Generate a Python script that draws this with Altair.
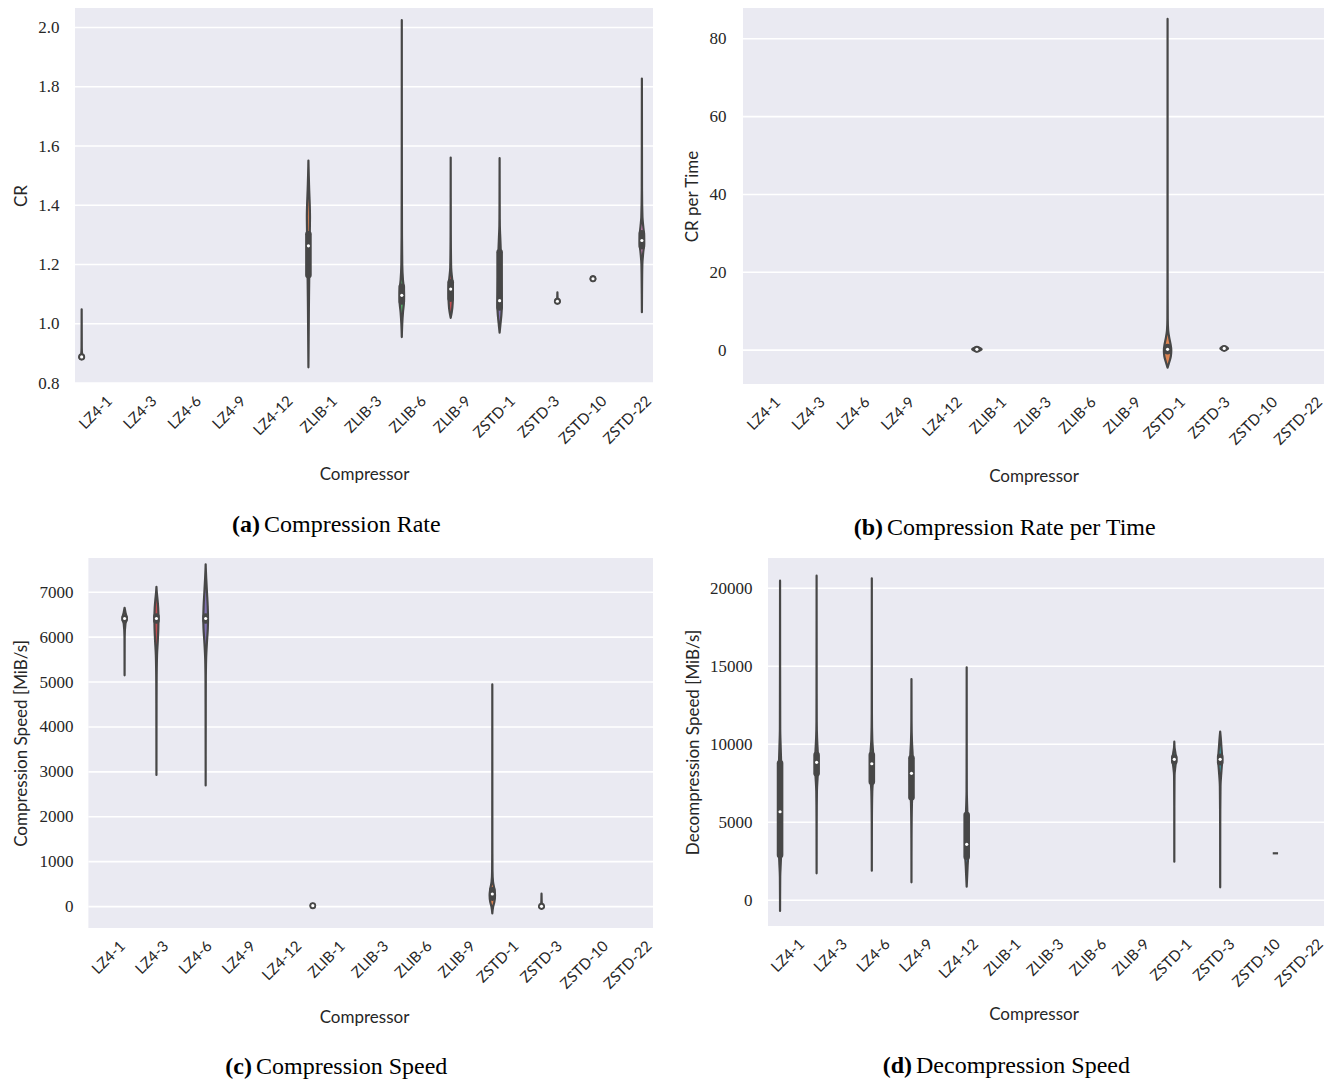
import altair as alt
import pandas as pd

CATEGORIES = ["LZ4-1", "LZ4-3", "LZ4-6", "LZ4-9", "LZ4-12", "ZLIB-1", "ZLIB-3",
              "ZLIB-6", "ZLIB-9", "ZSTD-1", "ZSTD-3", "ZSTD-10", "ZSTD-22"]
DEEP = ["#4C72B0", "#DD8452", "#55A868", "#C44E52", "#8172B3",
        "#937860", "#DA8BC3", "#8C8C8C", "#CCB974", "#64B5CD"]
HUSL11 = ["#f77189", "#dd8a35", "#b49b31", "#86a731", "#4dae5c", "#34af90",
          "#37abb6", "#4ba4d8", "#8a93f4", "#d775e9", "#f566c5"]
GRAY = "#474747"
BG = "#EAEAF2"
TEXT = "#262626"

# ---------------- (a) Compression Rate ----------------
A_NAMES = ["LZ4-1", "ZLIB-1", "ZLIB-6", "ZLIB-9", "ZSTD-1", "ZSTD-10", "ZSTD-22", "ZSTD-3"]
A_SLOTS = [0, 1, 2, 3, 4, 5, 6, 7]
A_NSLOTS = 8
A_Q1 = [0.887, 1.165, 1.075, 1.085, 1.055, 1.151, 1.262, 1.075]
A_MED = [0.888, 1.263, 1.096, 1.117, 1.078, 1.152, 1.281, 1.076]
A_Q3 = [0.889, 1.302, 1.125, 1.140, 1.241, 1.153, 1.305, 1.077]
A_PV = [
    [0.880, 0.884, 0.888, 0.892, 0.897, 0.92, 1.049],
    [0.853, 0.95, 1.05, 1.15, 1.22, 1.30, 1.36, 1.40, 1.45, 1.50, 1.551],
    [0.955, 1.0, 1.04, 1.07, 1.095, 1.12, 1.15, 1.2, 1.3, 1.5, 2.025],
    [1.02, 1.04, 1.07, 1.10, 1.13, 1.155, 1.19, 1.3, 1.561],
    [0.97, 1.0, 1.03, 1.06, 1.1, 1.15, 1.2, 1.25, 1.29, 1.33, 1.4, 1.559],
    [1.144, 1.148, 1.152, 1.156, 1.160],
    [1.039, 1.1, 1.2, 1.24, 1.27, 1.30, 1.33, 1.36, 1.45, 1.6, 1.828],
    [1.068, 1.072, 1.076, 1.080, 1.085, 1.106],
]
A_PW = [
    [0, 0.9, 1.1, 0.9, 0.2, 0.05, 0],
    [0, 0.1, 0.2, 0.35, 0.5, 0.6, 0.7, 0.6, 0.35, 0.15, 0],
    [0, 0.2, 0.55, 0.95, 1.0, 0.9, 0.5, 0.2, 0.08, 0.03, 0],
    [0, 0.5, 0.9, 1.0, 0.95, 0.6, 0.2, 0.05, 0],
    [0, 0.4, 0.8, 1.0, 0.85, 0.7, 0.6, 0.5, 0.3, 0.1, 0.04, 0],
    [0, 0.9, 1.1, 0.9, 0],
    [0, 0.05, 0.2, 0.6, 1.0, 0.95, 0.6, 0.25, 0.06, 0.03, 0],
    [0, 0.9, 1.1, 0.9, 0.1, 0],
]
A_YTICKS = [0.8, 1.0, 1.2, 1.4, 1.6, 1.8, 2.0]

# ---------------- (b) Compression Rate per Time ----------------
B_NAMES = ["ZLIB-1", "ZSTD-1", "ZSTD-3"]
B_SLOTS = [0, 1, 2]
B_NSLOTS = 3
B_Q1 = [0.15, -0.3, 0.4]
B_MED = [0.2, 0.2, 0.45]
B_Q3 = [0.25, 0.8, 0.5]
B_PV = [
    [-0.3, -0.05, 0.2, 0.45, 0.7],
    [-4.5, -3.0, -1.5, 0.0, 1.5, 3.0, 5.0, 8.0, 20.0, 85.1],
    [0.0, 0.2, 0.45, 0.7, 0.9],
]
B_PW = [
    [0, 0.6, 0.8, 0.6, 0],
    [0, 0.3, 0.55, 0.62, 0.5, 0.3, 0.1, 0.03, 0.01, 0],
    [0, 0.5, 0.64, 0.5, 0],
]
B_YTICKS = [0, 20, 40, 60, 80]

# ---------------- (c) Compression Speed ----------------
C_NAMES = ["ZLIB-1", "ZSTD-1", "ZSTD-3", "LZ4-3", "LZ4-6", "LZ4-1"]
C_SLOTS = [0, 1, 2, 3, 4, 5]
C_NSLOTS = 6
C_Q1 = [15, 200, 0, 6370, 6370, 6400]
C_MED = [20, 280, 5, 6415, 6415, 6415]
C_Q3 = [25, 360, 10, 6460, 6460, 6430]
C_PV = [
    [-25, 0, 20, 40, 65],
    [-151, 0, 100, 250, 400, 550, 800, 1500, 4947],
    [-45, -20, 0, 20, 50, 287],
    [2930, 4000, 5000, 5600, 5900, 6200, 6415, 6650, 6850, 7000, 7118],
    [2696, 4000, 5000, 5500, 5900, 6200, 6415, 6700, 7000, 7300, 7500, 7622],
    [5149, 6000, 6300, 6380, 6415, 6450, 6550, 6653],
]
C_PW = [
    [0, 0.6, 0.8, 0.6, 0],
    [0, 0.3, 0.7, 0.93, 0.7, 0.25, 0.06, 0.02, 0],
    [0, 0.7, 0.85, 0.7, 0.1, 0],
    [0, 0.02, 0.06, 0.2, 0.45, 0.65, 0.7, 0.6, 0.35, 0.12, 0],
    [0, 0.02, 0.05, 0.15, 0.45, 0.75, 0.81, 0.7, 0.45, 0.2, 0.06, 0],
    [0, 0.03, 0.3, 0.65, 0.69, 0.65, 0.3, 0],
]
C_YTICKS = [0, 1000, 2000, 3000, 4000, 5000, 6000, 7000]

# ---------------- (d) Decompression Speed ----------------
D_NAMES = ["LZ4-3", "LZ4-1", "LZ4-9", "LZ4-6", "ZSTD-1", "ZSTD-3", "LZ4-12", "ZSTD-10"]
D_SLOTS = [0, 2, 3, 4, 5, 6, 7, 10]
D_NSLOTS = 11
D_Q1 = [8141, 2904, 6603, 7603, 8900, 8850, 2795, 3013]
D_MED = [8846, 5679, 8141, 8756, 9038, 9038, 3590, 3013]
D_Q3 = [9314, 8782, 9103, 9314, 9150, 9200, 5468, 3013]
D_PV = [
    [1731, 5000, 7000, 7800, 8500, 9000, 9600, 10400, 11500, 15000, 20808],
    [-686, 1500, 2500, 3500, 5500, 7500, 8800, 9800, 11000, 15000, 20487],
    [1154, 4000, 6200, 7000, 8200, 9200, 10200, 11500, 14186],
    [1897, 5000, 7000, 7800, 8800, 9500, 10300, 12000, 20641],
    [2474, 6000, 8000, 8600, 9038, 9450, 9800, 10167],
    [833, 5000, 7300, 8300, 9038, 9800, 10500, 10808],
    [872, 1300, 2200, 3000, 4000, 5200, 6200, 7000, 10000, 14936],
    [3013],
]
D_PW = [
    [0, 0.05, 0.2, 0.6, 1.0, 1.0, 0.7, 0.3, 0.08, 0.03, 0],
    [0, 0.1, 0.5, 0.8, 0.85, 0.85, 0.7, 0.4, 0.1, 0.03, 0],
    [0, 0.05, 0.3, 0.8, 1.0, 0.8, 0.3, 0.06, 0],
    [0, 0.05, 0.3, 0.8, 1.0, 0.8, 0.3, 0.06, 0],
    [0, 0.03, 0.15, 0.7, 1.2, 0.7, 0.15, 0],
    [0, 0.04, 0.2, 0.8, 1.3, 0.8, 0.3, 0],
    [0, 0.2, 0.6, 1.0, 0.9, 0.6, 0.25, 0.08, 0.03, 0],
    [1],
]
D_YTICKS = [0, 5000, 10000, 15000, 20000]

LABEL_EXPR = " : ".join("datum.value == %d ? '%s'" % (i, c)
                        for i, c in enumerate(CATEGORIES)) + " : ''"
# shift each rotated label so that its box is centred under its tick
LEN_EXPR = "(" + " : ".join("datum.value == %d ? %d" % (i, len(c))
                            for i, c in enumerate(CATEGORIES)) + " : 6)"
OFFSET_EXPR = LEN_EXPR + " * 2.7 - 6.5"


def violin_panel(names, slots, nslots, palette, q1, med, q3, pvals, pwids,
                 ydomain, yticks, yfmt, ytitle, width, height, plot_width,
                 ytitle_x, label_pad, xtitle_y, tag, caption, cap_split, cap_y):
    half = 0.4 / nslots
    n = len(CATEGORIES)
    x_lo = (n - 0.5) - n * width / plot_width      # view may extend left of the plot area
    area, boxes, meds, singles = [], [], [], []
    for i, name in enumerate(names):
        pos = CATEGORIES.index(name) - 0.4 + 0.8 * (slots[i] + 0.5) / nslots
        color = palette[slots[i]]
        if len(pvals[i]) == 1:
            singles.append({"x": pos - half, "x2": pos + half, "y": pvals[i][0]})
            continue
        for v, w in zip(pvals[i], pwids[i]):
            area.append({"vid": name, "v": v, "lo": pos - w * half,
                         "hi": pos + w * half, "fill": color})
        boxes.append({"x": pos, "q1": q1[i], "q3": q3[i]})
        meds.append({"x": pos, "m": med[i]})

    xs = alt.Scale(domain=[x_lo, n - 0.5], nice=False, zero=False)
    ys = alt.Scale(domain=ydomain, nice=False, zero=False)
    xaxis = alt.Axis(
        values=list(range(n)), labelExpr=LABEL_EXPR,
        labelAngle=-45, labelAlign="right", labelBaseline="top",
        labelPadding=10, labelOffset=alt.ExprRef(expr=OFFSET_EXPR),
        labelOverlap=False, labelFlush=False, labelBound=False,
        grid=False, ticks=False, domain=False,
        title="Compressor", titleY=xtitle_y, titleBaseline="middle")
    yaxis = alt.Axis(
        values=yticks, format=yfmt, grid=False, labelOverlap=False,
        ticks=False, domain=False, labelPadding=label_pad,
        title=ytitle, titleX=ytitle_x, titleBaseline="middle")

    def X(f):
        return alt.X(f, scale=xs, axis=xaxis)

    def Y(f):
        return alt.Y(f, scale=ys, axis=yaxis)

    bg = pd.DataFrame({"x0": [-0.5], "x1": [n - 0.5], "y0": [ydomain[0]], "y1": [ydomain[1]]})
    grid = pd.DataFrame({"g": yticks, "x0": [-0.5] * len(yticks), "x1": [n - 0.5] * len(yticks)})

    layers = [
        alt.Chart(bg).mark_rect(color=BG).encode(
            x=X("x0:Q"), x2="x1:Q", y=Y("y0:Q"), y2="y1:Q"),
        alt.Chart(grid).mark_rule(color="white", strokeWidth=1.6).encode(
            x=X("x0:Q"), x2="x1:Q", y=Y("g:Q")),
        alt.Chart(pd.DataFrame(area)).mark_area(
            orient="horizontal", interpolate="monotone", stroke=GRAY,
            strokeWidth=2.2, strokeJoin="round", opacity=1
        ).encode(
            y=Y("v:Q"), x=X("lo:Q"), x2="hi:Q",
            detail="vid:N", color=alt.Color("fill:N", scale=None)),
        alt.Chart(pd.DataFrame(boxes)).mark_rule(
            color=GRAY, strokeWidth=6.6, strokeCap="round"
        ).encode(x=X("x:Q"), y=Y("q1:Q"), y2="q3:Q"),
        alt.Chart(pd.DataFrame(meds)).mark_circle(
            color="white", size=10, opacity=1
        ).encode(x=X("x:Q"), y=Y("m:Q")),
    ]
    if singles:
        layers.append(
            alt.Chart(pd.DataFrame(singles)).mark_rule(
                color=GRAY, strokeWidth=2.2, strokeCap="square"
            ).encode(x=X("x:Q"), x2="x2:Q", y=Y("y:Q"))
        )
    layers.append(
        alt.Chart(pd.DataFrame({"t": [tag]})).mark_text(
            align="right", baseline="alphabetic", font="Liberation Serif",
            fontSize=24, fontWeight="bold", color="black"
        ).encode(text="t:N", x=alt.value(cap_split), y=alt.value(cap_y))
    )
    layers.append(
        alt.Chart(pd.DataFrame({"t": [caption]})).mark_text(
            align="left", baseline="alphabetic", font="Liberation Serif",
            fontSize=24, fontWeight="normal", color="black"
        ).encode(text="t:N", x=alt.value(cap_split + 4), y=alt.value(cap_y))
    )
    return alt.layer(*layers).properties(width=width, height=height)


pa = violin_panel(A_NAMES, A_SLOTS, A_NSLOTS, DEEP, A_Q1, A_MED, A_Q3, A_PV, A_PW,
                  [0.8, 2.066], A_YTICKS, ".1f", "CR", 578, 375, 578,
                  -54, 16, 91, "(a)", "Compression Rate", 185, 524)
pb = violin_panel(B_NAMES, B_SLOTS, B_NSLOTS, DEEP, B_Q1, B_MED, B_Q3, B_PV, B_PW,
                  [-8.7, 87.9], B_YTICKS, "d", "CR per Time", 581, 376, 581,
                  -51, 17, 92, "(b)", "Compression Rate per Time", 140, 527)
pc = violin_panel(C_NAMES, C_SLOTS, C_NSLOTS, DEEP, C_Q1, C_MED, C_Q3, C_PV, C_PW,
                  [-477, 7762], C_YTICKS, "d", "Compression Speed [MiB/s]", 578, 370, 564.6,
                  -54, 2, 89, "(c)", "Compression Speed", 177, 516)
pd_ = violin_panel(D_NAMES, D_SLOTS, D_NSLOTS, HUSL11, D_Q1, D_MED, D_Q3, D_PV, D_PW,
                   [-1647, 21942], D_YTICKS, "d", "Decompression Speed [MiB/s]", 581, 368, 556,
                   -50, -9, 88, "(d)", "Decompression Speed", 169, 515)

chart = alt.concat(pa, pb, pc, pd_, columns=2, spacing={"row": 174, "column": 90},
                   bounds="flush").properties(
    padding={"left": 4, "top": 0, "right": 0, "bottom": 0}
).configure_view(
    strokeWidth=0
).configure_axis(
    titleFont="Lato", titleFontSize=17, titleFontWeight="normal", titleColor=TEXT,
    labelColor=TEXT
).configure_axisX(
    labelFont="Lato", labelFontSize=15
).configure_axisY(
    labelFont="Liberation Serif", labelFontSize=17
)

chart.save("out.html", embed_options={"renderer": "svg", "actions": False})
